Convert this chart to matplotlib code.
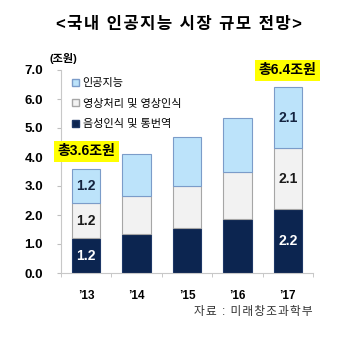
import matplotlib
matplotlib.use("Agg")
import matplotlib.pyplot as plt
from matplotlib.patches import Patch

plt.rcParams['font.family'] = ['Liberation Sans', 'Noto Sans CJK KR', 'DejaVu Sans']

years = ["’13", "’14", "’15", "’16", "’17"]
speech = [1.2, 1.35, 1.55, 1.85, 2.2]   # 음성인식 및 통번역
vision = [1.2, 1.3, 1.45, 1.65, 2.1]    # 영상처리 및 영상인식
ai = [1.2, 1.45, 1.7, 1.85, 2.1]        # 인공지능
labeled = [0, 4]
series_names = ["인공지능", "영상처리 및 영상인식", "음성인식 및 통번역"]
title = "<국내 인공지능 시장 규모 전망>"
source = "자료 : 미래창조과학부"


def spaced(s, gap="\u200a"):
    """Widen the letter spacing of a string with hair spaces."""
    return gap.join(s)


c_dark, e_dark = "#0c2550", "#1d3766"
c_mid, e_mid = "#f2f2f2", "#a6a6a6"
c_top, e_top = "#bce3fa", "#7b9cc9"

fig = plt.figure(figsize=(3.5, 3.5), dpi=100)
ax = fig.add_axes([61/350, 1-273/350, 252/350, 203/350])

x = list(range(len(years)))
w = 0.56
bottom2 = [a + b for a, b in zip(speech, vision)]
totals = [a + b + c for a, b, c in zip(speech, vision, ai)]
ax.bar(x, speech, w, color=c_dark, edgecolor=e_dark, linewidth=0.8)
ax.bar(x, vision, w, bottom=speech, color=c_mid, edgecolor=e_mid, linewidth=0.8)
ax.bar(x, ai, w, bottom=bottom2, color=c_top, edgecolor=e_top, linewidth=0.8)

for i in labeled:
    ax.text(i, speech[i] / 2, f"{speech[i]:.1f}", ha="center", va="center",
            color="white", fontsize=10, fontweight="bold")
    ax.text(i, speech[i] + vision[i] / 2, f"{vision[i]:.1f}", ha="center", va="center",
            color="#1a1a1a", fontsize=10, fontweight="bold")
    ax.text(i, bottom2[i] + ai[i] / 2, f"{ai[i]:.1f}", ha="center", va="center",
            color="#14233f", fontsize=10, fontweight="bold")
    ax.annotate(f"총{totals[i]:.1f}조원", (i, totals[i]), xytext=(0, 12.5),
                textcoords="offset points", ha="center", va="center",
                fontsize=10, fontweight="bold", color="black", annotation_clip=False,
                bbox=dict(boxstyle="square,pad=0.25", facecolor="#ffff00", edgecolor="none"))

ax.set_xlim(-0.5, len(years) - 0.5)
ax.set_ylim(0, 7)
ax.set_yticks([i * 1.0 for i in range(8)])
ax.set_yticklabels([f"{i:.1f}" for i in range(8)], fontsize=9.5, fontweight="bold")
ax.set_xticks(x)
ax.set_xticklabels(years, fontsize=8.5, fontweight="bold")
ax.set_xticks([i + 0.5 for i in range(-1, len(years))], minor=True)
ax.tick_params(axis="x", which="major", length=0, pad=12)
ax.tick_params(axis="x", which="minor", length=3, color="#bfbfbf", direction="out")
ax.tick_params(axis="y", length=3, color="#bfbfbf", pad=10)
for s in ["top", "right"]:
    ax.spines[s].set_visible(False)
for s in ["left", "bottom"]:
    ax.spines[s].set_color("#c8c8c8")
    ax.spines[s].set_linewidth(0.8)

handles = [Patch(facecolor=c_top, edgecolor=e_top),
           Patch(facecolor=c_mid, edgecolor=e_mid),
           Patch(facecolor=c_dark, edgecolor=e_dark)]
fig.legend(handles, series_names, loc="upper left", bbox_to_anchor=(72/350, 1-78/350),
           frameon=False, fontsize=8, handlelength=0.6, handleheight=0.6,
           handletextpad=0.35, labelspacing=0.95, borderpad=0, borderaxespad=0)

fig.text(50/350, 1-58/350, "(조원)", fontsize=8, fontweight="bold", va="center", ha="left")
fig.text(179/350, 1-25/350, spaced(title), fontsize=12, fontweight="bold",
         ha="center", va="center")
fig.text(313/350, 1-312/350, spaced(source), fontsize=8.5, color="#333333",
         ha="right", va="center")

fig.savefig("out.png", dpi=100, facecolor="white")
